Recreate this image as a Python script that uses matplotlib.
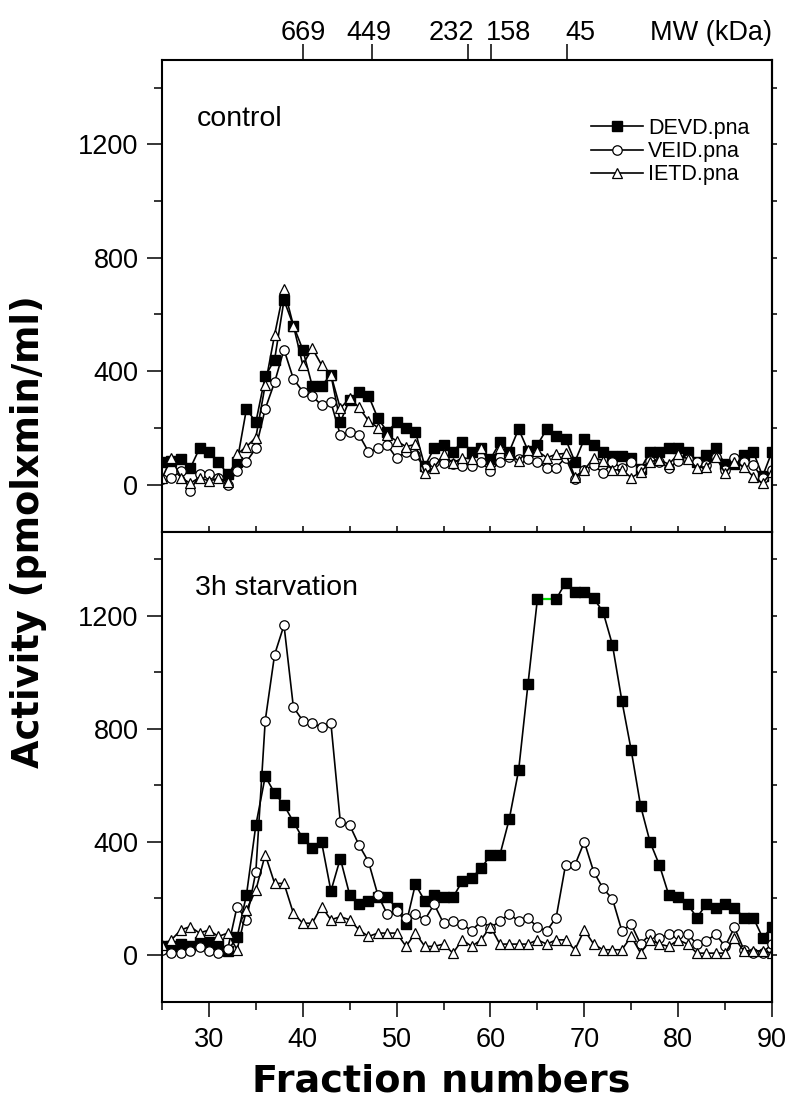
import numpy as np
import matplotlib
matplotlib.use("Agg")
import matplotlib.pyplot as plt
from matplotlib import font_manager
from matplotlib.ticker import MultipleLocator

# ── data ───────────────────────────────────────────────────────────────────
fractions = np.arange(25, 91)

devd_control = [81, 85, 90, 57, 128, 116, 81, 36, 81, 267, 220, 382, 441, 650, 561,
                476, 349, 349, 387, 220, 300, 326, 314, 234, 187, 220, 199, 187, 65, 128,
                140, 116, 152, 116, 128, 90, 149, 116, 196, 120, 140, 196, 173, 161, 81,
                161, 140, 116, 102, 102, 93, 55, 116, 116, 128, 128, 116, 80, 105, 128,
                72, 72, 105, 116, 30, 116]
veid_control = [20, 22, 48, -22, 36, 36, 25, -1, 48, 81, 128, 267, 361, 476, 373,
                328, 314, 279, 290, 175, 184, 175, 116, 128, 140, 93, 116, 105, 60, 81,
                78, 72, 67, 67, 81, 48, 81, 99, 91, 91, 81, 60, 60, 95, 20,
                50, 70, 40, 81, 57, 81, 55, 84, 81, 60, 84, 91, 81, 69, 99,
                50, 95, 81, 69, 22, 52]
ietd_control = [22, 95, 25, 5, 25, 13, 22, 11, 107, 134, 166, 352, 528, 690, 561,
                422, 481, 422, 387, 269, 305, 272, 225, 201, 175, 154, 134, 142, 40, 60,
                107, 75, 95, 90, 128, 72, 128, 107, 84, 122, 119, 95, 107, 110, 28,
                52, 95, 85, 52, 52, 25, 43, 81, 87, 72, 107, 91, 60, 63, 99,
                40, 81, 63, 28, 5, 46]

devd_starv = [30, 30, 38, 30, 46, 46, 38, 15, 62, 212, 459, 632, 573, 530, 471,
              412, 377, 400, 226, 341, 212, 179, 191, 203, 203, 165, 108, 250, 191, 212,
              203, 203, 261, 273, 306, 353, 353, 480, 653, 959, 1259, np.nan, 1259, 1318, 1285,
              1285, 1262, 1214, 1097, 900, 724, 527, 400, 318, 212, 203, 179, 132, 179, 167,
              179, 167, 132, 132, 61, 97]
veid_starv = [18, 6, 6, 14, 26, 14, 6, 20, 171, 124, 294, 829, 1063, 1167, 877,
              829, 821, 806, 820, 471, 459, 388, 330, 212, 144, 155, 132, 144, 124, 179,
              112, 120, 108, 85, 120, 95, 120, 144, 120, 132, 97, 85, 132, 318, 318,
              400, 294, 235, 198, 85, 108, 38, 73, 61, 73, 73, 73, 38, 49, 73,
              30, 97, 18, 8, 8, 38]
ietd_starv = [35, 53, 88, 100, 77, 88, 65, 77, 18, 159, 229, 355, 253, 253, 147,
              112, 112, 171, 124, 135, 124, 88, 65, 77, 77, 77, 30, 77, 30, 30,
              38, 6, 53, 30, 53, 100, 38, 38, 38, 38, 53, 38, 53, 53, 18,
              88, 38, 18, 18, 18, 65, 6, 53, 38, 30, 53, 38, 6, 6, 6,
              6, 59, 14, 14, 14, 6]

mw_labels = ["669", "449", "232", "158", "45"]
mw_fraction = [40.0, 47.4, 57.6, 60.1, 68.2]
mw_label_x = [40.0, 47.0, 55.8, 61.9, 69.6]

series_names = ["DEVD.pna", "VEID.pna", "IETD.pna"]
panel_names = ["control", "3h starvation"]


# ── fonts ──────────────────────────────────────────────────────────────────
def pick_font(names):
    for n in names:
        try:
            font_manager.findfont(font_manager.FontProperties(family=n),
                                  fallback_to_default=False)
            return n
        except ValueError:
            continue
    return "DejaVu Sans"


base_font = pick_font(["Liberation Sans", "Arial"])
plt.rcParams["font.family"] = [base_font, "DejaVu Sans"]

# ── figure ─────────────────────────────────────────────────────────────────
W, H = 789, 1099
fig = plt.figure(figsize=(W / 100, H / 100), dpi=100)
left, right = 162 / W, 772 / W
ax1 = fig.add_axes([left, 1 - 532 / H, right - left, 472 / H])
ax2 = fig.add_axes([left, 1 - 1002 / H, right - left, 470 / H])

styles = [
    dict(marker="s", mfc="black", mec="black", ms=6.8),
    dict(marker="o", mfc="white", mec="black", ms=6.8, mew=0.9),
    dict(marker="^", mfc="white", mec="black", ms=7.6, mew=0.9),
]

for ax, data in [(ax1, [devd_control, veid_control, ietd_control]),
                 (ax2, [devd_starv, veid_starv, ietd_starv])]:
    for name, vals, st in zip(series_names, data, styles):
        ax.plot(fractions, vals, color="black", lw=1.2, label=name, **st)
    ax.set_xlim(25, 90)
    ax.set_ylim(-167, 1497)
    ax.yaxis.set_major_locator(MultipleLocator(400))
    ax.yaxis.set_minor_locator(MultipleLocator(200))
    ax.tick_params(axis="y", which="major", direction="out", length=11, width=1.1,
                   labelsize=19.5, pad=6)
    ax.tick_params(axis="y", which="minor", direction="out", length=6, width=1.1)
    ax.tick_params(axis="y", which="both", right=False)
    for s in ax.spines.values():
        s.set_linewidth(1.5)
    # short outward ticks on the right frame
    sec = ax.secondary_yaxis("right")
    sec.yaxis.set_major_locator(MultipleLocator(200))
    sec.tick_params(direction="out", length=3.5, width=1.1, labelright=False)
    sec.spines["right"].set_linewidth(1.5)

# missing DEVD point bridged by a green segment
d = np.array(devd_starv, dtype=float)
gap = np.where(np.isnan(d))[0]
for i in gap:
    ax2.plot(fractions[[i - 1, i + 1]], d[[i - 1, i + 1]], color="#00e000", lw=1.6,
             zorder=1)

# x axis
ax1.xaxis.set_major_locator(MultipleLocator(5))
ax1.tick_params(axis="x", bottom=False, labelbottom=False, top=True, direction="in",
                length=4, width=1.1)
ax2.xaxis.set_major_locator(MultipleLocator(10))
ax2.xaxis.set_minor_locator(MultipleLocator(5))
ax2.tick_params(axis="x", which="major", direction="out", length=11, width=1.1,
                labelsize=19.5, pad=7)
ax2.tick_params(axis="x", which="minor", direction="out", length=6, width=1.1)

# molecular weight markers on top
mw = ax1.twiny()
mw.set_xlim(ax1.get_xlim())
mw.set_xticks(mw_fraction)
mw.tick_params(axis="x", direction="out", length=11.5, width=1.1, labeltop=False)
for s in mw.spines.values():
    s.set_visible(False)
label_y = 1 + 27 / 472
for lab, x in zip(mw_labels, mw_label_x):
    mw.text(x, label_y, lab, transform=mw.get_xaxis_transform(), ha="center",
            va="center", fontsize=19.5)
mw.text(90, label_y, "MW (kDa)", transform=mw.get_xaxis_transform(),
        ha="right", va="center", fontsize=19.5)

# panel labels
ax1.text(0.057, 0.860, panel_names[0], transform=ax1.transAxes, fontsize=20.5,
         va="baseline")
ax2.text(0.054, 0.866, panel_names[1], transform=ax2.transAxes, fontsize=20.5,
         va="baseline")

# legend
ax1.legend(loc="upper left", bbox_to_anchor=(591 / W, 1 - 118 / H),
           bbox_transform=fig.transFigure, frameon=False, fontsize=15.5,
           handlelength=2.4, handletextpad=0.25, labelspacing=0.1,
           borderpad=0, borderaxespad=0)

# axis titles
fig.text(29 / W, 1 - 532 / H, "Activity (pmolxmin/ml)", rotation=90, ha="center",
         va="center", fontsize=26.5, fontweight="bold", family="DejaVu Sans")
fig.text(441 / W, 1 - 1081 / H, "Fraction numbers", ha="center", va="center",
         fontsize=27.5, fontweight="bold", family="DejaVu Sans")

fig.savefig("out.png", dpi=100)
